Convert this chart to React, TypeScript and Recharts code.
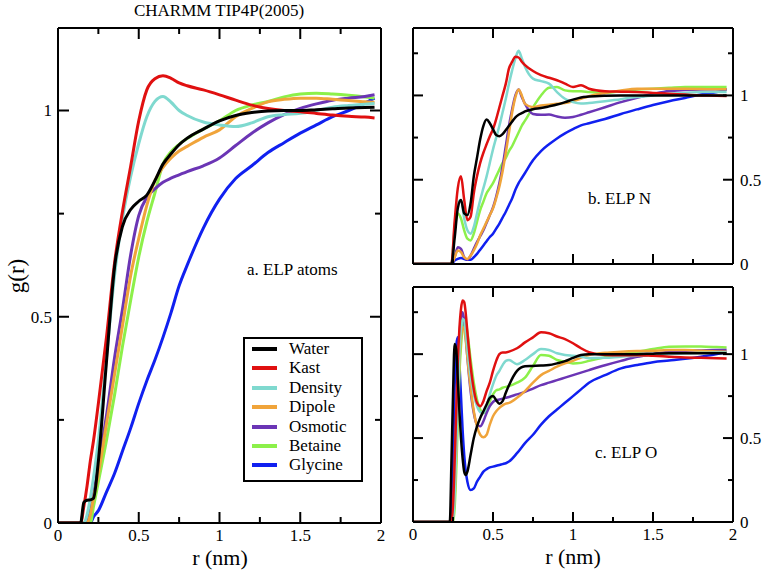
import React from 'react';
import { LineChart, Line, XAxis, YAxis, Legend } from 'recharts';

const SERIF = '"Liberation Serif", "Times New Roman", serif';

// ---------- series meta ----------
const seriesNames = ['Water', 'Kast', 'Density', 'Dipole', 'Osmotic', 'Betaine', 'Glycine'];
const seriesKeys = ['water', 'kast', 'density', 'dipole', 'osmotic', 'betaine', 'glycine'];
const seriesColors = ['#000000', '#e01010', '#7fd9cf', '#f0a43a', '#6b35b5', '#8cf04a', '#1020f0'];

// ---------- ticks ----------
const xTicks = [0, 0.25, 0.5, 0.75, 1, 1.25, 1.5, 1.75, 2];
const xMajor = [0, 0.5, 1, 1.5, 2];
const aYTicks = [0, 0.25, 0.5, 0.75, 1];
const bcYTicks = [0, 0.25, 0.5, 0.75, 1, 1.25];
const yMajor = [0, 0.5, 1];

// ---------- panel a : ELP atoms ----------
const aR = [0, 0.1, 0.14, 0.16, 0.18, 0.2, 0.22, 0.25, 0.3, 0.35, 0.4, 0.45, 0.5, 0.55, 0.6, 0.65, 0.7, 0.75, 0.8, 0.9, 1.0, 1.1, 1.2, 1.3, 1.4, 1.5, 1.6, 1.7, 1.8, 1.9, 1.96];
const aWater = [0, 0, 0, 0.05, 0.055, 0.056, 0.06, 0.15, 0.39, 0.62, 0.72, 0.76, 0.78, 0.795, 0.83, 0.87, 0.895, 0.917, 0.933, 0.955, 0.975, 0.988, 0.995, 0.999, 1.0, 1.0, 1.002, 1.004, 1.006, 1.007, 1.008];
const aKast = [0, 0, 0, 0.04, 0.09, 0.15, 0.2, 0.29, 0.45, 0.63, 0.757, 0.865, 0.975, 1.05, 1.077, 1.084, 1.078, 1.067, 1.06, 1.05, 1.038, 1.025, 1.013, 1.005, 1.0, 0.997, 0.993, 0.989, 0.986, 0.984, 0.982];
const aDensity = [0, 0, 0, 0, 0.02, 0.06, 0.11, 0.2, 0.4, 0.6, 0.74, 0.84, 0.92, 0.985, 1.022, 1.034, 1.02, 1.0, 0.988, 0.972, 0.965, 0.961, 0.97, 0.985, 0.99, 0.993, 1.0, 1.008, 1.012, 1.015, 1.017];
const aDipole = [0, 0, 0, 0, 0, 0.02, 0.06, 0.12, 0.24, 0.36, 0.48, 0.6, 0.69, 0.77, 0.83, 0.862, 0.885, 0.902, 0.913, 0.935, 0.953, 0.985, 1.005, 1.021, 1.027, 1.03, 1.03, 1.027, 1.024, 1.021, 1.02];
const aOsmotic = [0, 0, 0, 0, 0, 0.03, 0.07, 0.14, 0.26, 0.4, 0.52, 0.65, 0.745, 0.79, 0.81, 0.826, 0.836, 0.844, 0.852, 0.866, 0.885, 0.915, 0.945, 0.97, 0.99, 1.005, 1.016, 1.025, 1.03, 1.034, 1.038];
const aBetaine = [0, 0, 0, 0, 0, 0, 0.04, 0.1, 0.2, 0.31, 0.43, 0.54, 0.645, 0.73, 0.8, 0.87, 0.9, 0.918, 0.932, 0.955, 0.975, 1.0, 1.013, 1.022, 1.033, 1.04, 1.042, 1.04, 1.037, 1.033, 1.03];
const aGlycine = [0, 0, 0, 0, 0, 0, 0.015, 0.03, 0.075, 0.12, 0.175, 0.23, 0.29, 0.345, 0.395, 0.45, 0.51, 0.575, 0.625, 0.715, 0.785, 0.835, 0.866, 0.898, 0.922, 0.945, 0.965, 0.985, 1.0, 1.018, 1.03];

// ---------- panel b : ELP N ----------
const bR = [0, 0.2, 0.24, 0.26, 0.28, 0.3, 0.32, 0.34, 0.36, 0.38, 0.4, 0.42, 0.44, 0.46, 0.48, 0.5, 0.52, 0.54, 0.56, 0.58, 0.6, 0.62, 0.64, 0.66, 0.68, 0.7, 0.75, 0.8, 0.85, 0.9, 0.95, 1.0, 1.05, 1.1, 1.2, 1.3, 1.4, 1.5, 1.6, 1.7, 1.8, 1.9, 1.96];
const bWater = [0, 0, 0, 0.15, 0.33, 0.38, 0.3, 0.29, 0.36, 0.52, 0.63, 0.74, 0.82, 0.857, 0.835, 0.8, 0.765, 0.758, 0.77, 0.795, 0.82, 0.845, 0.87, 0.885, 0.895, 0.905, 0.918, 0.925, 0.935, 0.946, 0.96, 0.975, 0.988, 0.993, 0.998, 1, 1, 1, 1, 1, 1, 1, 1];
const bKast = [0, 0, 0, 0.25, 0.45, 0.52, 0.38, 0.26, 0.28, 0.42, 0.52, 0.6, 0.66, 0.71, 0.758, 0.8, 0.86, 0.93, 1.0, 1.07, 1.16, 1.2, 1.23, 1.225, 1.2, 1.18, 1.145, 1.12, 1.105, 1.09, 1.07, 1.05, 1.06, 1.04, 1.025, 1.022, 1.02, 1.015, 1.01, 1.005, 1.0, 0.998, 0.996];
const bDensity = [0, 0, 0, 0.22, 0.36, 0.38, 0.27, 0.2, 0.18, 0.22, 0.3, 0.38, 0.45, 0.52, 0.6, 0.68, 0.75, 0.82, 0.9, 0.98, 1.07, 1.15, 1.22, 1.265, 1.22, 1.17, 1.1, 1.085, 1.07, 1.02, 0.98, 0.96, 0.952, 0.955, 0.965, 0.978, 0.99, 1.0, 1.01, 1.015, 1.02, 1.02, 1.02];
const bDipole = [0, 0, 0, 0.04, 0.08, 0.07, 0.04, 0.03, 0.05, 0.08, 0.12, 0.17, 0.21, 0.25, 0.29, 0.33, 0.39, 0.46, 0.55, 0.66, 0.78, 0.9, 0.99, 1.035, 1.0, 0.95, 0.93, 0.94, 0.945, 0.95, 0.955, 0.965, 0.98, 0.995, 1.015, 1.03, 1.04, 1.04, 1.04, 1.04, 1.038, 1.036, 1.036];
const bOsmotic = [0, 0, 0, 0.04, 0.1, 0.09, 0.04, 0.025, 0.05, 0.09, 0.13, 0.165, 0.2, 0.245, 0.29, 0.335, 0.4, 0.48, 0.58, 0.7, 0.82, 0.92, 1.0, 1.035, 0.99, 0.95, 0.89, 0.885, 0.887, 0.875, 0.868, 0.872, 0.885, 0.9, 0.93, 0.96, 0.986, 1.008, 1.026, 1.032, 1.035, 1.036, 1.036];
const bBetaine = [0, 0, 0, 0.2, 0.3, 0.27, 0.2, 0.15, 0.14, 0.18, 0.25, 0.32, 0.37, 0.42, 0.45, 0.48, 0.52, 0.56, 0.6, 0.63, 0.67, 0.7, 0.74, 0.78, 0.82, 0.85, 0.93, 1.0, 1.045, 1.05, 1.03, 1.025, 1.025, 1.02, 1.016, 1.025, 1.035, 1.04, 1.045, 1.05, 1.05, 1.05, 1.05];
const bGlycine = [0, 0, 0, 0.02, 0.03, 0.035, 0.03, 0.025, 0.025, 0.04, 0.06, 0.085, 0.11, 0.135, 0.16, 0.18, 0.21, 0.24, 0.275, 0.31, 0.35, 0.39, 0.44, 0.48, 0.51, 0.54, 0.615, 0.67, 0.71, 0.745, 0.775, 0.8, 0.822, 0.835, 0.86, 0.89, 0.917, 0.943, 0.966, 0.985, 1.005, 1.02, 1.036];

// ---------- panel c : ELP O ----------
const cR = [0, 0.2, 0.23, 0.24, 0.25, 0.26, 0.27, 0.28, 0.29, 0.3, 0.31, 0.32, 0.33, 0.34, 0.36, 0.38, 0.4, 0.42, 0.44, 0.46, 0.48, 0.5, 0.52, 0.54, 0.56, 0.58, 0.6, 0.65, 0.7, 0.75, 0.8, 0.85, 0.9, 0.95, 1.0, 1.05, 1.1, 1.2, 1.3, 1.4, 1.5, 1.6, 1.7, 1.8, 1.9, 1.96];
const cWater = [0, 0, 0, 0.35, 0.75, 1.06, 1.03, 0.85, 0.66, 0.5, 0.38, 0.3, 0.28, 0.3, 0.4, 0.5, 0.57, 0.62, 0.66, 0.7, 0.74, 0.75, 0.725, 0.705, 0.72, 0.77, 0.815, 0.9, 0.928, 0.93, 0.932, 0.935, 0.945, 0.958, 0.978, 0.995, 1.0, 1.0, 1.0, 1.0, 1.003, 1.005, 1.005, 1.005, 1.005, 1.005];
const cKast = [0, 0, 0, 0, 0.1, 0.35, 0.65, 0.95, 1.15, 1.27, 1.32, 1.31, 1.24, 1.13, 0.93, 0.79, 0.71, 0.69, 0.72, 0.78, 0.83, 0.9, 0.96, 1.0, 1.01, 1.01, 1.015, 1.035, 1.07, 1.1, 1.13, 1.125, 1.105, 1.09, 1.065, 1.035, 1.012, 0.995, 0.994, 0.994, 0.99, 0.985, 0.98, 0.978, 0.975, 0.974];
const cDensity = [0, 0, 0, 0, 0.02, 0.15, 0.42, 0.75, 1.0, 1.15, 1.21, 1.2, 1.13, 1.03, 0.87, 0.76, 0.69, 0.655, 0.65, 0.69, 0.76, 0.82, 0.87, 0.9, 0.935, 0.96, 0.965, 0.94, 0.965, 1.0, 1.03, 1.025, 1.005, 0.995, 0.99, 0.985, 0.976, 0.978, 0.985, 0.99, 0.995, 1.0, 1.005, 1.008, 1.01, 1.01];
const cDipole = [0, 0, 0, 0, 0.03, 0.15, 0.4, 0.7, 0.95, 1.1, 1.16, 1.15, 1.08, 0.98, 0.8, 0.66, 0.57, 0.52, 0.505, 0.52, 0.58, 0.63, 0.66, 0.68, 0.695, 0.705, 0.71, 0.74, 0.78, 0.83, 0.875, 0.9, 0.925, 0.945, 0.96, 0.98, 0.995, 1.008, 1.014, 1.018, 1.02, 1.024, 1.024, 1.02, 1.016, 1.014];
const cOsmotic = [0, 0, 0, 0, 0.08, 0.3, 0.6, 0.9, 1.1, 1.22, 1.25, 1.2, 1.1, 0.98, 0.78, 0.65, 0.58, 0.57, 0.6, 0.65, 0.69, 0.715, 0.725, 0.73, 0.735, 0.74, 0.745, 0.76, 0.775, 0.795, 0.815, 0.83, 0.845, 0.86, 0.875, 0.89, 0.905, 0.934, 0.96, 0.984, 1.0, 1.014, 1.02, 1.022, 1.024, 1.024];
const cBetaine = [0, 0, 0, 0, 0, 0.08, 0.3, 0.6, 0.88, 1.05, 1.15, 1.2, 1.19, 1.13, 0.97, 0.83, 0.73, 0.67, 0.65, 0.67, 0.72, 0.76, 0.785, 0.79, 0.8, 0.805, 0.81, 0.83, 0.86, 0.93, 0.995, 0.99, 0.965, 0.955, 0.945, 0.948, 0.96, 0.982, 1.0, 1.014, 1.03, 1.044, 1.046, 1.045, 1.042, 1.04];
const cGlycine = [0, 0, 0, 0.05, 0.4, 0.8, 1.05, 1.1, 0.95, 0.75, 0.55, 0.4, 0.3, 0.24, 0.19, 0.2, 0.24, 0.27, 0.3, 0.315, 0.325, 0.33, 0.335, 0.34, 0.345, 0.35, 0.36, 0.41, 0.47, 0.52, 0.58, 0.63, 0.67, 0.71, 0.75, 0.79, 0.83, 0.875, 0.915, 0.935, 0.952, 0.962, 0.972, 0.985, 1.0, 1.012];

const build = (r: number[], cols: number[][]) =>
  r.map((rv, i) => {
    const row: Record<string, number> = { r: rv };
    seriesKeys.forEach((k, j) => {
      row[k] = cols[j][i];
    });
    return row;
  });

const dataA = build(aR, [aWater, aKast, aDensity, aDipole, aOsmotic, aBetaine, aGlycine]);
const dataB = build(bR, [bWater, bKast, bDensity, bDipole, bOsmotic, bBetaine, bGlycine]);
const dataC = build(cR, [cWater, cKast, cDensity, cDipole, cOsmotic, cBetaine, cGlycine]);

const isMaj = (v: number, majors: number[]) => majors.some((m) => Math.abs(m - v) < 1e-6);
const fmt = (v: number) => String(Math.round(v * 100) / 100);

type Side = 'bottom' | 'top' | 'left' | 'right';
const makeTick = (side: Side, majors: number[], labels: boolean, majLen: number, minLen: number) => (props: any) => {
  const { x, y, payload } = props;
  const v = payload.value as number;
  const maj = isMaj(v, majors);
  const len = maj ? majLen : minLen;
  let line;
  let label = null;
  if (side === 'bottom') {
    line = <line x1={x} y1={y} x2={x} y2={y - len} stroke="#000" strokeWidth={2} />;
    if (labels && maj)
      label = (
        <text x={x} y={y + 18} textAnchor="middle" fontFamily={SERIF} fontSize={17} fill="#000">
          {fmt(v)}
        </text>
      );
  } else if (side === 'top') {
    line = <line x1={x} y1={y} x2={x} y2={y + len} stroke="#000" strokeWidth={2} />;
  } else if (side === 'left') {
    line = <line x1={x} y1={y} x2={x + len} y2={y} stroke="#000" strokeWidth={2} />;
    if (labels && maj)
      label = (
        <text x={x - 6} y={y} dy="0.35em" textAnchor="end" fontFamily={SERIF} fontSize={17} fill="#000">
          {fmt(v)}
        </text>
      );
  } else {
    line = <line x1={x} y1={y} x2={x - len} y2={y} stroke="#000" strokeWidth={2} />;
    if (labels && maj)
      label = (
        <text x={x + 7} y={y} dy="0.35em" textAnchor="start" fontFamily={SERIF} fontSize={17} fill="#000">
          {fmt(v)}
        </text>
      );
  }
  return (
    <g>
      {line}
      {label}
    </g>
  );
};

const axisLine = { stroke: '#000', strokeWidth: 2 };

const LegendBox = () => (
  <div
    style={{
      width: 120,
      height: 145,
      border: '2px solid #000',
      boxSizing: 'border-box',
      background: '#fff',
      position: 'relative',
      fontFamily: SERIF,
      fontSize: 17,
      color: '#000',
    }}
  >
    {seriesNames.map((n, i) => (
      <div key={n} style={{ position: 'absolute', left: 0, top: i * 19.4, height: 20, width: 116 }}>
        <div style={{ position: 'absolute', left: 7, top: 8, width: 25, height: 4, background: seriesColors[i] }} />
        <div style={{ position: 'absolute', left: 44, top: 0, lineHeight: '20px', whiteSpace: 'nowrap' }}>{n}</div>
      </div>
    ))}
  </div>
);

const drawOrder = [6, 5, 4, 3, 2, 1, 0];

const renderLines = (w: number) =>
  drawOrder.map((j) => (
    <Line
      key={seriesKeys[j]}
      type="monotone"
      dataKey={seriesKeys[j]}
      name={seriesNames[j]}
      stroke={seriesColors[j]}
      strokeWidth={w}
      dot={false}
      activeDot={false}
      isAnimationActive={false}
    />
  ));

interface PanelProps {
  data: Record<string, number>[];
  width: number;
  height: number;
  margin: { top: number; right: number; bottom: number; left: number };
  yMax: number;
  yTicks: number[];
  xLabels: boolean;
  yLabelSide: 'left' | 'right';
  majLen: number;
  minLen: number;
  lineW: number;
  legend?: boolean;
}

// axes are 1px thick boxes; the margins below already subtract that pixel
const Panel = (p: PanelProps) => (
  <LineChart width={p.width} height={p.height} data={p.data} margin={p.margin}>
    <XAxis
      dataKey="r"
      type="number"
      domain={[0, 2]}
      ticks={xTicks}
      interval={0}
      allowDataOverflow
      height={1}
      tickSize={0}
      tickMargin={0}
      tickLine={false}
      axisLine={axisLine}
      tick={makeTick('bottom', xMajor, p.xLabels, p.majLen, p.minLen)}
    />
    <XAxis
      xAxisId="top"
      orientation="top"
      dataKey="r"
      type="number"
      domain={[0, 2]}
      ticks={xTicks}
      interval={0}
      allowDataOverflow
      height={1}
      tickSize={0}
      tickMargin={0}
      tickLine={false}
      axisLine={axisLine}
      tick={makeTick('top', xMajor, false, p.majLen, p.minLen)}
    />
    <YAxis
      type="number"
      domain={[0, p.yMax]}
      ticks={p.yTicks}
      interval={0}
      allowDataOverflow
      width={1}
      tickSize={0}
      tickMargin={0}
      tickLine={false}
      axisLine={axisLine}
      tick={makeTick('left', yMajor, p.yLabelSide === 'left', p.majLen, p.minLen)}
    />
    <YAxis
      yAxisId="right"
      orientation="right"
      type="number"
      domain={[0, p.yMax]}
      ticks={p.yTicks}
      interval={0}
      allowDataOverflow
      width={1}
      tickSize={0}
      tickMargin={0}
      tickLine={false}
      axisLine={axisLine}
      tick={makeTick('right', yMajor, p.yLabelSide === 'right', p.majLen, p.minLen)}
    />
    {p.legend && (
      <Legend
        layout="vertical"
        align="center"
        verticalAlign="middle"
        content={() => <LegendBox />}
        wrapperStyle={{ left: 243, top: 337, width: 120, height: 145 }}
      />
    )}
    {renderLines(p.lineW)}
  </LineChart>
);

const txt = { fontFamily: SERIF, fill: '#000' } as const;

export default function App() {
  return (
    <div style={{ position: 'absolute', left: 0, top: 0, width: 762, height: 572, background: '#fff', overflow: 'hidden' }}>
      <div style={{ position: 'absolute', left: 0, top: 0 }}>
        <Panel
          data={dataA}
          width={400}
          height={572}
          margin={{ top: 27, right: 18, bottom: 48, left: 57 }}
          yMax={1.2}
          yTicks={aYTicks}
          xLabels
          yLabelSide="left"
          majLen={11}
          minLen={6}
          lineW={3}
          legend
        />
      </div>
      <div style={{ position: 'absolute', left: 400, top: 0 }}>
        <Panel
          data={dataB}
          width={362}
          height={280}
          margin={{ top: 27, right: 28, bottom: 15, left: 12 }}
          yMax={1.4}
          yTicks={bcYTicks}
          xLabels={false}
          yLabelSide="right"
          majLen={10}
          minLen={5}
          lineW={2.5}
        />
      </div>
      <div style={{ position: 'absolute', left: 400, top: 280 }}>
        <Panel
          data={dataC}
          width={362}
          height={292}
          margin={{ top: 6, right: 28, bottom: 49, left: 12 }}
          yMax={1.4}
          yTicks={bcYTicks}
          xLabels
          yLabelSide="right"
          majLen={10}
          minLen={5}
          lineW={2.5}
        />
      </div>
      <svg width={762} height={572} style={{ position: 'absolute', left: 0, top: 0, pointerEvents: 'none' }}>
        <text x={219} y={16} textAnchor="middle" fontSize={17} {...txt}>
          CHARMM TIP4P(2005)
        </text>
        <text x={0} y={0} textAnchor="middle" fontSize={23} transform="translate(24,276) rotate(-90)" {...txt}>
          g(r)
        </text>
        <text x={220} y={565} textAnchor="middle" fontSize={22} {...txt}>
          r (nm)
        </text>
        <text x={573} y={564} textAnchor="middle" fontSize={22} {...txt}>
          r (nm)
        </text>
        <text x={247} y={275} fontSize={17} {...txt}>
          a. ELP atoms
        </text>
        <text x={588} y={204} fontSize={17} {...txt}>
          b. ELP N
        </text>
        <text x={595} y={458} fontSize={17} {...txt}>
          c. ELP O
        </text>
      </svg>
    </div>
  );
}
